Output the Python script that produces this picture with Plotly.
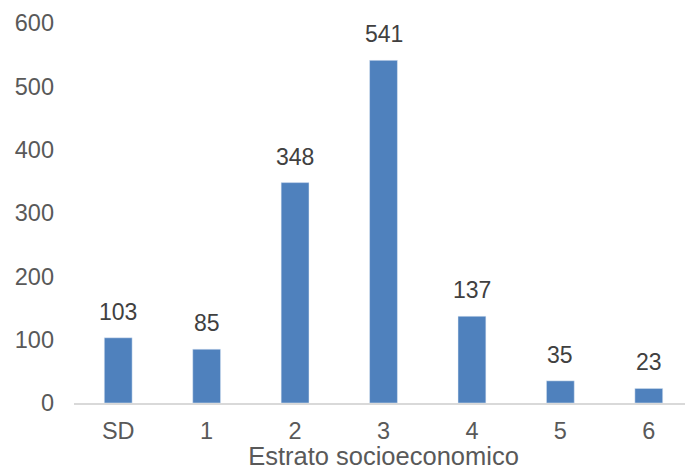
import plotly.graph_objects as go

categories = ["SD", "1", "2", "3", "4", "5", "6"]
counts = [103, 85, 348, 541, 137, 35, 23]

fig = go.Figure(
    go.Bar(
        x=categories,
        y=counts,
        marker_color="#4F81BD",
        hoverinfo="x+y",
    )
)

# data labels sit a bit higher above the bars than plotly's "outside" text
for cat, val in zip(categories, counts):
    fig.add_annotation(
        x=cat, y=val, text=str(val),
        showarrow=False, yanchor="bottom", yshift=11,
        font=dict(size=23, color="#404040"),
    )

# page body has an 8px margin, so the figure is a bit smaller than the window
fig.update_layout(
    width=685,
    height=462,
    margin=dict(l=66, r=0, t=15, b=67),
    plot_bgcolor="white",
    paper_bgcolor="white",
    bargap=0.685,
    showlegend=False,
    font=dict(family="Liberation Sans, Arial, sans-serif", size=23, color="#595959"),
)
fig.update_xaxes(
    title=dict(text="Estrato socioeconomico", font=dict(size=25.5, color="#595959"), standoff=3),
    showline=True,
    linecolor="#D9D9D9",
    linewidth=2,
    ticks="",
    tickfont=dict(size=23.5, color="#595959"),
    ticklabelstandoff=6,
    automargin=False,
)
fig.update_yaxes(
    range=[0, 600],
    dtick=100,
    showgrid=False,
    zeroline=False,
    ticks="",
    tickfont=dict(size=23.5, color="#595959"),
    ticklabelstandoff=19,
    automargin=False,
)

fig.write_html("out.html")
